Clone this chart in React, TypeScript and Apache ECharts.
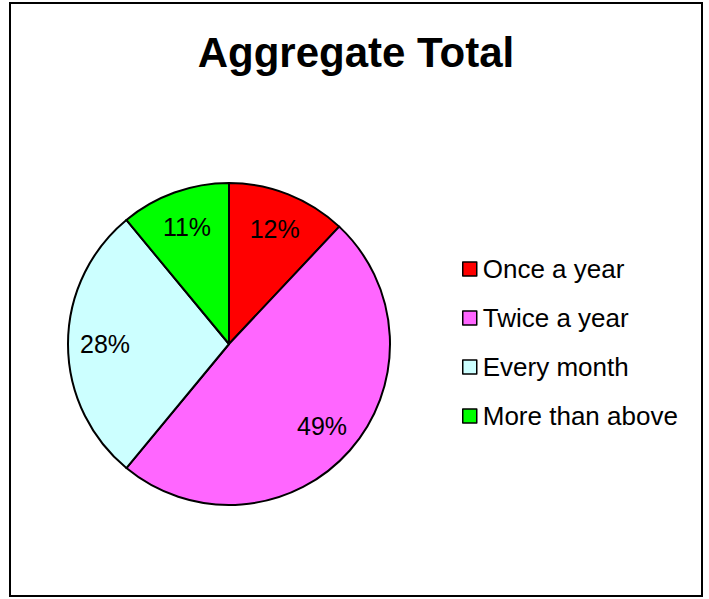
import React, { useEffect, useRef } from "react";
import * as echarts from "echarts";

const titleText = "Aggregate Total";
const categories = ["Once a year", "Twice a year", "Every month", "More than above"];
const values = [12, 49, 28, 11];
const colors = ["#FF0000", "#FF66FF", "#CCFFFF", "#00FF00"];

const FONT = "'Liberation Sans', Arial, sans-serif";

export default function App() {
  const ref = useRef<HTMLDivElement>(null);
  useEffect(() => {
    if (!ref.current) return;
    const chart = echarts.init(ref.current, null, { renderer: "svg" });
    const data = categories.map((name, i) => ({
      name,
      value: values[i],
      itemStyle: { color: colors[i] },
    }));
    chart.setOption({
      animation: false,
      backgroundColor: "#ffffff",
      title: {
        text: titleText,
        left: 356,
        top: 31,
        textAlign: "center",
        padding: 0,
        textStyle: {
          fontFamily: FONT,
          fontSize: 42,
          fontWeight: "bold",
          color: "#000",
        },
      },
      legend: {
        orient: "vertical",
        left: 462,
        top: 256,
        padding: 0,
        itemWidth: 14,
        itemHeight: 14,
        itemGap: 23,
        icon: "rect",
        data: categories,
        selectedMode: false,
        itemStyle: { borderColor: "#000", borderWidth: 1.5 },
        textStyle: {
          fontFamily: FONT,
          fontSize: 26,
          lineHeight: 26,
          color: "#000",
          padding: [0, 0, 0, 1],
        },
      },
      graphic: [
        {
          type: "rect",
          shape: { x: 10, y: 3, width: 692, height: 593 },
          style: { fill: "none", stroke: "#000", lineWidth: 2 },
          silent: true,
        },
      ],
      series: [
        {
          type: "pie",
          center: [229, 344],
          radius: [0, 161],
          startAngle: 90,
          clockwise: true,
          label: { show: false },
          labelLine: { show: false },
          itemStyle: { borderColor: "#000", borderWidth: 2 },
          emphasis: { disabled: true },
          data,
        },
        {
          type: "pie",
          center: [229, 344],
          radius: [82, 160],
          startAngle: 90,
          clockwise: true,
          silent: true,
          itemStyle: { color: "rgba(0,0,0,0)", borderWidth: 0 },
          label: {
            show: true,
            position: "inside",
            formatter: "{d}%",
            fontFamily: FONT,
            fontSize: 25,
            color: "#000",
          },
          labelLine: { show: false },
          emphasis: { disabled: true },
          legendHoverLink: false,
          data: categories.map((name, i) => ({
            name: name + " ",
            value: values[i],
            itemStyle: { color: "rgba(0,0,0,0)" },
          })),
        },
      ],
    });
    return () => chart.dispose();
  }, []);
  return (
    <div
      ref={ref}
      style={{ position: "fixed", left: 0, top: 0, width: 709, height: 599 }}
    />
  );
}
